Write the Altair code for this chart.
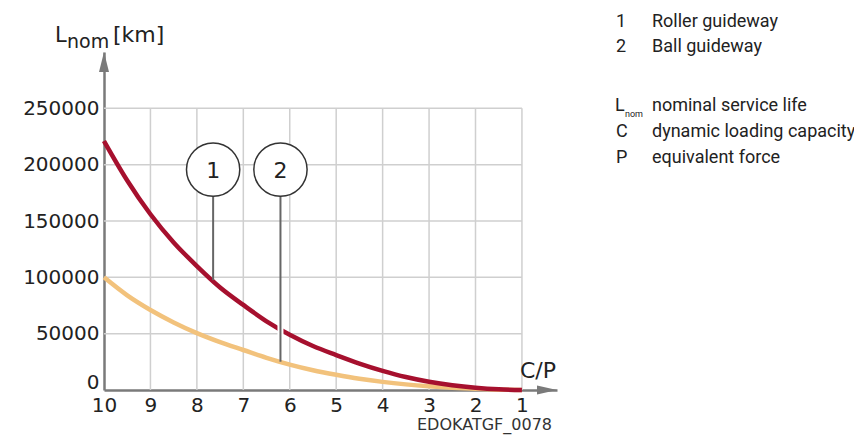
import altair as alt
import pandas as pd

# ---- data ----
cp = [10, 9.5, 9, 8.5, 8, 7.5, 7, 6.5, 6, 5.5, 5, 4.5, 4, 3.5, 3, 2.5, 2, 1.5, 1]
roller = [221000, 186000, 156000, 131000, 110000, 91000, 75500, 61000, 49000,
          39000, 31000, 23500, 17000, 11500, 7300, 4200, 2000, 600, 0]
ball = [100000, 84000, 71000, 60000, 50500, 42500, 35500, 28500, 22500,
        17500, 13500, 10000, 7200, 5000, 3300, 2000, 1000, 300, 0]

x_ticks = [10, 9, 8, 7, 6, 5, 4, 3, 2, 1]
y_ticks = [0, 50000, 100000, 150000, 200000, 250000]

callout_labels = ["1", "2"]
callout_cp = [7.65, 6.2]
callout_top = [172000, 172000]
callout_end = [97500, 25100]
callout_center = [195650, 195650]

legend_keys = ["1", "2", "C", "P"]
legend_texts = ["Roller guideway", "Ball guideway", "dynamic loading capacity",
                "equivalent force"]

X_DOMAIN = [10, 0.245]
Y_DOMAIN = [0, 300000]

FONT = "DejaVu Sans"
NARROW = "Roboto"
RED = "#A6102E"
YEL = "#F2C27C"
GRID = "#cfcfcf"
AXIS = "#7a7a7a"

xs = alt.Scale(domain=X_DOMAIN, nice=False, zero=False)
ys = alt.Scale(domain=Y_DOMAIN, nice=False)

AX_X = alt.Axis(values=x_ticks, format="d", title=None, grid=False, ticks=False,
                labelFlush=False, labelFont=FONT, labelFontSize=20, labelColor="#222",
                labelPadding=5, domainColor=AXIS, domainWidth=2.5)
AX_Y = alt.Axis(values=y_ticks, format="d", title=None, grid=False, ticks=False,
                labelFlush=True, labelFlushOffset=2, labelFont=FONT, labelFontSize=20,
                labelColor="#222", labelPadding=5, domainColor=AXIS, domainWidth=2.5)


def X(field="x"):
    return alt.X(f"{field}:Q", scale=xs, axis=AX_X)


def Y(field="y"):
    return alt.Y(f"{field}:Q", scale=ys, axis=AX_Y)


curves = pd.DataFrame({
    "x": cp * 2,
    "y": ball + roller,
    "s": ["ball"] * len(cp) + ["roller"] * len(cp),
})

# grid
vgrid = alt.Chart(pd.DataFrame({"x": x_ticks[1:], "y": 0, "y2": y_ticks[-1]})).mark_rule(
    color=GRID, strokeWidth=1.5).encode(x=X(), y=Y(), y2="y2:Q")
hgrid = alt.Chart(pd.DataFrame({"y": y_ticks[1:], "x": x_ticks[0], "x2": x_ticks[-1]})).mark_rule(
    color=GRID, strokeWidth=1.5).encode(x=X(), x2="x2:Q", y=Y())

xarrow = alt.Chart(pd.DataFrame({"x": [X_DOMAIN[1]], "y": [0]})).mark_point(
    shape="M0,0L-2,-0.45L-2,0.45Z", size=400, filled=True, color=AXIS, opacity=1
).encode(x=X(), y=Y())
yarrow = alt.Chart(pd.DataFrame({"x": [X_DOMAIN[0]], "y": [Y_DOMAIN[1]]})).mark_point(
    shape="M0,0L-0.5,2L0.5,2Z", size=400, filled=True, color=AXIS, opacity=1
).encode(x=X(), y=Y())

lines = alt.Chart(curves).mark_line(strokeWidth=4.5, interpolate="monotone").encode(
    x=X(), y=Y(),
    color=alt.Color("s:N", scale=alt.Scale(domain=["ball", "roller"], range=[YEL, RED]),
                    legend=None),
    order=alt.Order("s:N"),
)

co = pd.DataFrame({"t": callout_labels, "x": callout_cp, "top": callout_top,
                   "end": callout_end, "c": callout_center})
halo = alt.Chart(co.iloc[[1]]).mark_rule(color="white", strokeWidth=6).encode(
    x=X(), y=Y("h1"), y2="h2:Q"
).transform_calculate(h1="42000", h2="60000")
leader = alt.Chart(co).mark_rule(color="#666", strokeWidth=2).encode(
    x=X(), y=Y("top"), y2="end:Q")
circ = alt.Chart(co).mark_point(shape="circle", size=2840, filled=True, fill="white",
                                stroke="#333", strokeWidth=1.5, opacity=1).encode(
    x=X(), y=Y("c"))
ctext = alt.Chart(co).mark_text(font=FONT, fontSize=22, color="#222", baseline="middle",
                                align="center", dy=1).encode(
    x=X(), y=Y("c"), text="t:N")


def label(txt, x, y, size, font=FONT, color="#222"):
    return alt.Chart(pd.DataFrame({"t": [txt]})).mark_text(
        align="left", baseline="alphabetic", font=font, fontSize=size, color=color
    ).encode(x=alt.value(x), y=alt.value(y), text="t:N")


texts = [
    label("L", -49, -10, 21),
    label("nom", -37, -4, 19),
    label("[km]", 9, -10, 22),
    label("C/P", 416, 326, 22),
    label("EDOKATGF_0078", 313, 378, 16, color="#333"),
]
legend_y = [-25, 0, 85, 111]
for k, t, yy in zip(legend_keys, legend_texts, legend_y):
    texts.append(label(k, 512, yy, 18, font=NARROW))
    texts.append(label(t, 548, yy, 18, font=NARROW))
texts += [
    label("L", 511, 59, 18, font=NARROW),
    label("nom", 521, 65, 9, font=NARROW),
    label("nominal service life", 548, 59, 18, font=NARROW),
]

chart = alt.layer(
    vgrid, hgrid, lines, halo, leader, circ, ctext, xarrow, yarrow, *texts
).properties(
    width=453, height=338,
    autosize=alt.AutoSizeParams(type="none"),
    padding={"left": 96, "top": 44, "right": 297, "bottom": 47},
    background="white",
).configure_view(stroke=None)

chart.save("out.html", embed_options={"renderer": "svg", "actions": False})
